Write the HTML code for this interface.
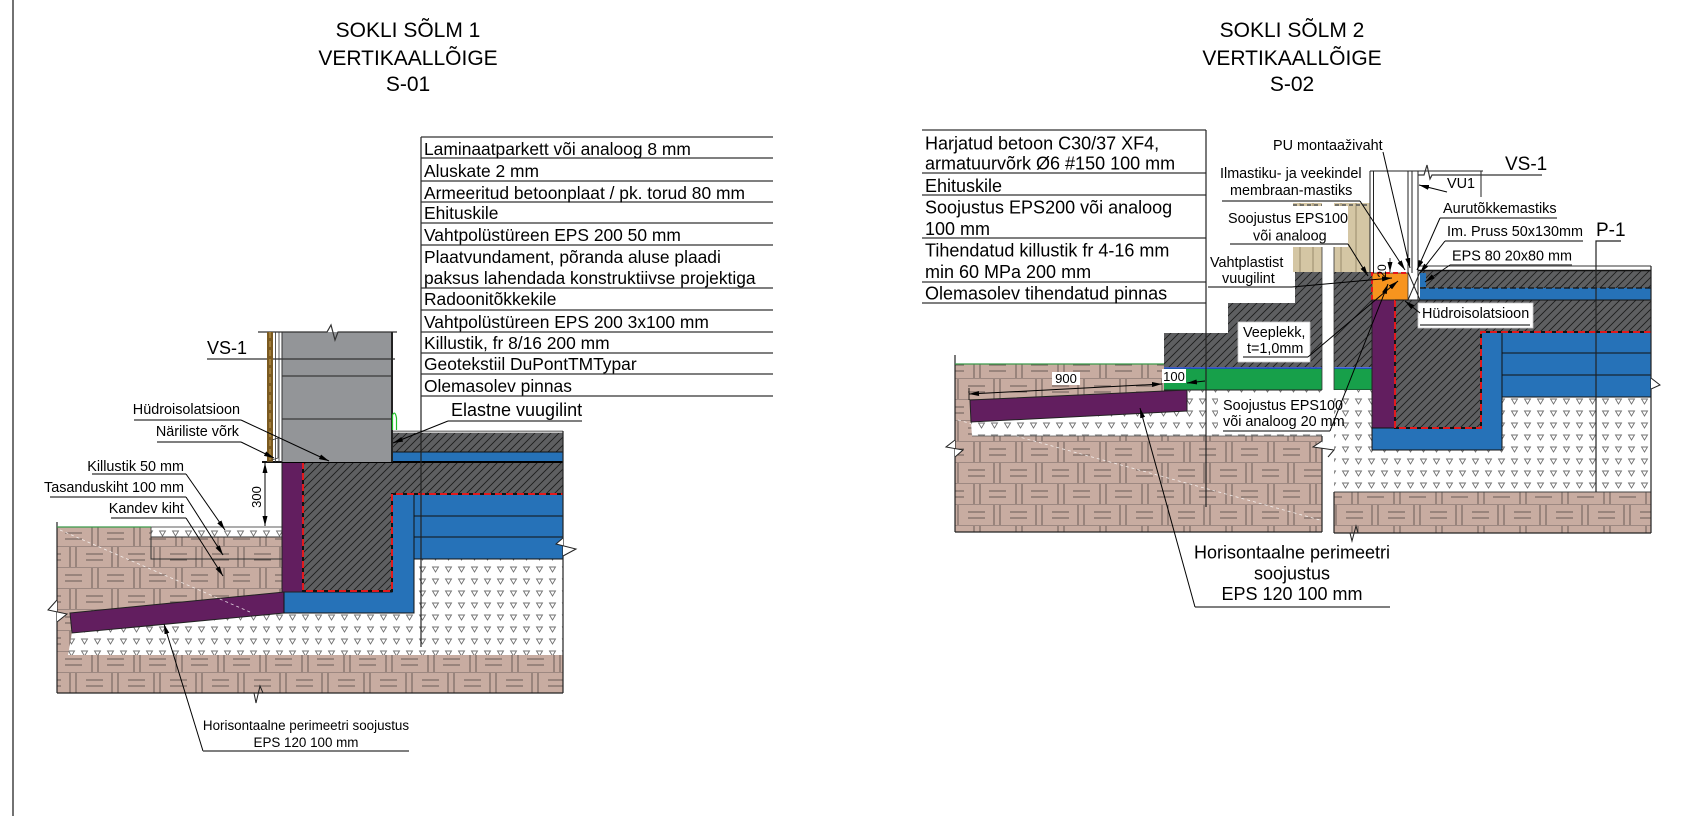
<!DOCTYPE html>
<html><head><meta charset="utf-8"><style>
html,body{margin:0;padding:0;background:#fff;}
body{width:1686px;height:816px;overflow:hidden;}
svg{display:block;font-family:"Liberation Sans",Arial,sans-serif;}
</style></head><body>
<svg width="1686" height="816" viewBox="0 0 1686 816" xmlns="http://www.w3.org/2000/svg">
<defs>
<pattern id="hatch" patternUnits="userSpaceOnUse" width="8" height="8">
<rect width="8" height="8" fill="#5e5f61"/>
<path d="M-2,2 L2,-2 M0,8 L8,0 M6,10 L10,6" stroke="#1c1c1c" stroke-width="0.9"/>
</pattern>
<pattern id="soil" patternUnits="userSpaceOnUse" width="42" height="42">
<rect width="42" height="42" fill="#c8aca1"/>
<g stroke="#8f7c76" stroke-width="0.8">
<path d="M0,0.5 H42 M0,21.5 H42"/>
</g>
<g stroke="#6a5b56" stroke-width="1">
<path d="M2,8 H19 M2,14 H19 M28,1 V21 M34,1 V21 M8,22 V42 M14,22 V42 M23,29 H40 M23,35 H40"/>
</g>
</pattern>
<pattern id="grav" patternUnits="userSpaceOnUse" width="13" height="12">
<rect width="13" height="12" fill="#fff"/>
<path d="M3.5,3 L9.5,3 L6.5,8 Z" fill="none" stroke="#707070" stroke-width="0.9"/>
</pattern>
<marker id="ah" markerUnits="userSpaceOnUse" markerWidth="11" markerHeight="5" refX="10" refY="2.5" orient="auto">
<path d="M0,0 L10,2.5 L0,5 z" fill="#000"/>
</marker>
<marker id="ahs" markerUnits="userSpaceOnUse" markerWidth="11" markerHeight="5" refX="0" refY="2.5" orient="auto">
<path d="M10,0 L0,2.5 L10,5 z" fill="#000"/>
</marker>
</defs>

<!-- page border -->
<line x1="13" y1="0" x2="13" y2="816" stroke="#444" stroke-width="1.5"/>

<!-- TITLES -->
<g font-size="21" text-anchor="middle" fill="#000">
<text x="408" y="37">SOKLI SÕLM 1</text>
<text x="408" y="65">VERTIKAALLÕIGE</text>
<text x="408" y="91">S-01</text>
<text x="1292" y="37">SOKLI SÕLM 2</text>
<text x="1292" y="65">VERTIKAALLÕIGE</text>
<text x="1292" y="91">S-02</text>
</g>

<!-- ================= LEFT DIAGRAM ================= -->
<rect x="57" y="527" width="506" height="166" fill="url(#soil)"/>
<polygon points="72,633 284,613 414,613 414,559 563,559 563,655 68,655" fill="url(#grav)"/>
<rect x="151" y="527" width="131" height="10" fill="url(#grav)" stroke="#333" stroke-width="0.8"/>
<rect x="151" y="537" width="131" height="22" fill="none" stroke="#333" stroke-width="1"/>
<polygon points="70,613 284,592 284,613 72,633" fill="#621e5f" stroke="#222" stroke-width="1"/>
<polygon points="284,592 392,592 392,494 414,494 414,613 284,613" fill="#2672b8" stroke="#111" stroke-width="1"/>
<rect x="414" y="494" width="149" height="65" fill="#2672b8" stroke="#111" stroke-width="1"/>
<line x1="414" y1="516" x2="563" y2="516" stroke="#111" stroke-width="1"/>
<line x1="414" y1="537" x2="563" y2="537" stroke="#111" stroke-width="1"/>
<rect x="282" y="462" width="21" height="130" fill="#621e5f" stroke="#222" stroke-width="1"/>
<polygon points="303,462 563,462 563,494 392,494 392,591 303,591" fill="url(#hatch)"/>
<polyline points="303,462 303,591 392,591 392,494 563,494" fill="none" stroke="#111" stroke-width="2"/>
<polyline points="303,462 303,591 392,591 392,494 563,494" fill="none" stroke="#e3191c" stroke-width="2" stroke-dasharray="7,4"/>
<line x1="282" y1="462" x2="303" y2="462" stroke="#e3191c" stroke-width="2" stroke-dasharray="5,3"/>
<rect x="390" y="433" width="173" height="19" fill="url(#hatch)"/>
<rect x="390" y="452" width="173" height="10" fill="#2672b8"/>
<line x1="390" y1="452" x2="563" y2="452" stroke="#111" stroke-width="1"/>
<line x1="390" y1="431.5" x2="563" y2="431.5" stroke="#8a8a8a" stroke-width="2"/>
<line x1="262" y1="462" x2="563" y2="462" stroke="#000" stroke-width="2"/>
<rect x="282" y="332" width="110" height="130" fill="#939598"/>
<line x1="282" y1="376" x2="392" y2="376" stroke="#3a3a3a" stroke-width="1.2"/>
<line x1="282" y1="419" x2="392" y2="419" stroke="#3a3a3a" stroke-width="1.2"/>
<line x1="207" y1="359" x2="395" y2="359" stroke="#333" stroke-width="1.2"/>
<polyline points="258,332 327,332 331,325 335,340 338,332 397,332" fill="none" stroke="#333" stroke-width="1.2"/>
<line x1="392" y1="332" x2="392" y2="462" stroke="#222" stroke-width="2"/>
<line x1="282" y1="332" x2="282" y2="462" stroke="#333" stroke-width="1"/>
<rect x="267" y="332" width="6" height="130" fill="#7b5a20"/>
<line x1="270" y1="332" x2="270" y2="460" stroke="#d8b060" stroke-width="0.8" stroke-dasharray="6,3"/>
<line x1="275.5" y1="332" x2="275.5" y2="462" stroke="#333" stroke-width="0.8"/>
<line x1="279" y1="332" x2="279" y2="462" stroke="#333" stroke-width="0.8"/>
<path d="M272,440 L278,438 L278,458 L272,460" fill="none" stroke="#333" stroke-width="0.8"/>
<path d="M392.5,430 L392.5,415 Q395,410 396.5,418 L396.5,430" fill="none" stroke="#23c02a" stroke-width="1.2"/>
<line x1="262" y1="462" x2="282" y2="462" stroke="#333" stroke-width="0.8"/>
<line x1="265" y1="463" x2="265" y2="526" stroke="#000" stroke-width="1" marker-start="url(#ahs)" marker-end="url(#ah)"/>
<text x="0" y="0" font-size="13" text-anchor="middle" transform="translate(261,497) rotate(-90)">300</text>
<line x1="57" y1="522" x2="57" y2="693" stroke="#222" stroke-width="1.2"/>
<line x1="57" y1="527" x2="151" y2="527" stroke="#3a9a4a" stroke-width="1.2"/>
<line x1="57" y1="693" x2="563" y2="693" stroke="#222" stroke-width="1.2"/>
<line x1="563" y1="431" x2="563" y2="693" stroke="#222" stroke-width="1.2"/>
<polyline points="563,538 556,544 576,549 563,556" fill="#fff" stroke="#222" stroke-width="1"/>
<polyline points="57,600 48,610 67,614 57,622" fill="#fff" stroke="#222" stroke-width="1"/>
<polyline points="249,693 254,693 256,703 260,686 263,693" fill="none" stroke="#222" stroke-width="1"/>
<line x1="60" y1="530" x2="250" y2="612" stroke="#fff" stroke-width="0.8" stroke-dasharray="3,3" opacity="0.8"/>
<line x1="421" y1="137" x2="421" y2="647" stroke="#222" stroke-width="1.2"/>

<g stroke="#333" stroke-width="1.3">
<line x1="421" y1="137" x2="773" y2="137"/>
<line x1="421" y1="158" x2="773" y2="158"/>
<line x1="421" y1="181" x2="773" y2="181"/>
<line x1="421" y1="202" x2="773" y2="202"/>
<line x1="421" y1="223" x2="773" y2="223"/>
<line x1="421" y1="245" x2="773" y2="245"/>
<line x1="421" y1="288" x2="773" y2="288"/>
<line x1="421" y1="310" x2="773" y2="310"/>
<line x1="421" y1="332" x2="773" y2="332"/>
<line x1="421" y1="353" x2="773" y2="353"/>
<line x1="421" y1="374" x2="773" y2="374"/>
<line x1="421" y1="396" x2="773" y2="396"/>
</g>
<g font-size="17.4" fill="#000">
<text x="424" y="155">Laminaatparkett või analoog 8 mm</text>
<text x="424" y="177">Aluskate 2 mm</text>
<text x="424" y="199">Armeeritud betoonplaat / pk. torud 80 mm</text>
<text x="424" y="219">Ehituskile</text>
<text x="424" y="241">Vahtpolüstüreen EPS 200 50 mm</text>
<text x="424" y="263">Plaatvundament, põranda aluse plaadi</text>
<text x="424" y="284">paksus lahendada konstruktiivse projektiga</text>
<text x="424" y="305">Radoonitõkkekile</text>
<text x="424" y="328">Vahtpolüstüreen EPS 200 3x100 mm</text>
<text x="424" y="349">Killustik, fr 8/16 200 mm</text>
<text x="424" y="370">Geotekstiil DuPontTMTypar</text>
<text x="424" y="392">Olemasolev pinnas</text>
</g>

<text x="207" y="354" font-size="18">VS-1</text>
<text x="451" y="416" font-size="18">Elastne vuugilint</text>
<line x1="448" y1="421" x2="582" y2="421" stroke="#555" stroke-width="1.5"/>
<line x1="448" y1="421" x2="393" y2="443" stroke="#000" stroke-width="1" marker-end="url(#ah)"/>

<g font-size="14.4" text-anchor="end" fill="#000">
<text x="240" y="414">Hüdroisolatsioon</text>
<text x="239" y="436">Näriliste võrk</text>
<text x="184" y="471">Killustik 50 mm</text>
<text x="184" y="492">Tasanduskiht 100 mm</text>
<text x="184" y="513">Kandev kiht</text>
</g>
<g stroke="#555" stroke-width="1.5">
<line x1="134" y1="420" x2="241" y2="420"/>
<line x1="157" y1="442" x2="241" y2="442"/>
<line x1="92" y1="474" x2="186" y2="474"/>
<line x1="50" y1="497" x2="186" y2="497"/>
<line x1="111" y1="518" x2="186" y2="518"/>
</g>
<g stroke="#000" stroke-width="1" fill="none">
<line x1="241" y1="420" x2="329" y2="461" marker-end="url(#ah)"/>
<line x1="241" y1="442" x2="274" y2="458" marker-end="url(#ah)"/>
<line x1="186" y1="474" x2="225" y2="530" marker-end="url(#ah)"/>
<line x1="186" y1="497" x2="223" y2="555" marker-end="url(#ah)"/>
<line x1="186" y1="518" x2="223" y2="576" marker-end="url(#ah)"/>
<line x1="203" y1="751" x2="164" y2="624" marker-end="url(#ah)"/>
</g>
<g font-size="13.4" text-anchor="middle">
<text x="306" y="730">Horisontaalne perimeetri soojustus</text>
<text x="306" y="747">EPS 120 100 mm</text>
</g>
<line x1="203" y1="751" x2="409" y2="751" stroke="#555" stroke-width="1.5"/>

<!-- ================= RIGHT DIAGRAM ================= -->
<rect x="955" y="364" width="367" height="168" fill="url(#soil)"/>
<rect x="1334" y="492" width="317" height="41" fill="url(#soil)"/>
<line x1="958" y1="420" x2="1320" y2="520" stroke="#fff" stroke-width="0.8" stroke-dasharray="3,3" opacity="0.8"/>
<polygon points="971,422 1187,411 1187,390 1322,390 1322,436 972,436" fill="url(#grav)"/>
<line x1="972" y1="436" x2="1322" y2="436" stroke="#555" stroke-width="0.8"/>
<polygon points="970,400 1187,390 1187,411 971,422" fill="#621e5f" stroke="#222" stroke-width="1"/>
<rect x="1164" y="368" width="158" height="22" fill="#17a04a"/>
<rect x="1334" y="368" width="38" height="22" fill="#17a04a"/>
<line x1="1164" y1="390" x2="1372" y2="390" stroke="#222" stroke-width="1"/>
<line x1="1164" y1="368" x2="1372" y2="368" stroke="#1d3fd0" stroke-width="1.5"/>
<polygon points="1164,367 1164,333 1228,333 1228,303 1295,303 1295,272 1322,272 1322,367" fill="url(#hatch)"/>
<rect x="1334" y="272" width="38" height="95" fill="url(#hatch)"/>
<polygon points="1334,390 1372,390 1372,450 1502,450 1502,397 1651,397 1651,492 1334,492" fill="url(#grav)"/>
<line x1="1334" y1="492" x2="1651" y2="492" stroke="#444" stroke-width="1"/>
<rect x="1293" y="203" width="29" height="69" fill="#d4c6a4"/>
<rect x="1334" y="203" width="36" height="69" fill="#d4c6a4"/>
<g stroke="#8b7d60" stroke-width="0.8">
<line x1="1300" y1="203" x2="1300" y2="272"/>
<line x1="1313" y1="203" x2="1313" y2="272"/>
<line x1="1341" y1="203" x2="1341" y2="272"/>
<line x1="1356" y1="203" x2="1356" y2="272"/>
</g>
<line x1="1293" y1="205" x2="1370" y2="205" stroke="#555" stroke-width="1.5" stroke-dasharray="4,3"/>
<rect x="1322" y="203" width="12" height="330" fill="#fff"/>
<line x1="1322" y1="240" x2="1322" y2="390" stroke="#333" stroke-width="0.8"/>
<line x1="1334" y1="240" x2="1334" y2="390" stroke="#333" stroke-width="0.8"/>
<rect x="1372" y="273" width="36" height="27" fill="#f7941e" stroke="#333" stroke-width="0.8"/>
<polyline points="1372,300 1372,273 1408,273" fill="none" stroke="#e3191c" stroke-width="2" stroke-dasharray="5,3"/>
<rect x="1372" y="300" width="23" height="128" fill="#621e5f" stroke="#222" stroke-width="1"/>
<polygon points="1395,300 1651,300 1651,332 1481,332 1481,428 1395,428" fill="url(#hatch)"/>
<polygon points="1372,428 1481,428 1481,332 1502,332 1502,450 1372,450" fill="#2672b8" stroke="#111" stroke-width="1"/>
<rect x="1502" y="332" width="149" height="65" fill="#2672b8" stroke="#111" stroke-width="1"/>
<line x1="1502" y1="353" x2="1651" y2="353" stroke="#111" stroke-width="1"/>
<line x1="1502" y1="375" x2="1651" y2="375" stroke="#111" stroke-width="1"/>
<polyline points="1395,300 1395,428 1481,428 1481,332 1651,332" fill="none" stroke="#111" stroke-width="2"/>
<polyline points="1395,300 1395,428 1481,428 1481,332 1651,332" fill="none" stroke="#e3191c" stroke-width="2" stroke-dasharray="7,4"/>
<rect x="1420" y="271" width="231" height="17" fill="url(#hatch)"/>
<rect x="1420" y="288" width="231" height="12" fill="#2672b8"/>
<line x1="1420" y1="288" x2="1651" y2="288" stroke="#111" stroke-width="1.2" stroke-dasharray="6,3"/>
<line x1="1395" y1="300" x2="1651" y2="300" stroke="#111" stroke-width="1"/>
<rect x="1420" y="273" width="6" height="14" fill="#2672b8"/>
<line x1="1418" y1="266" x2="1651" y2="266" stroke="#333" stroke-width="1"/>
<line x1="1418" y1="270.5" x2="1651" y2="270.5" stroke="#111" stroke-width="1.5"/>
<g stroke="#222" stroke-width="1">
<line x1="1370" y1="171" x2="1483" y2="171"/>
<line x1="1370" y1="171" x2="1370" y2="273"/>
<line x1="1373.5" y1="171" x2="1373.5" y2="273"/>
<line x1="1408" y1="171" x2="1408" y2="273"/>
<line x1="1412" y1="171" x2="1412" y2="273"/>
<line x1="1418" y1="171" x2="1418" y2="300"/>
<line x1="1481" y1="171" x2="1481" y2="197"/>
<line x1="1408" y1="272" x2="1420" y2="300"/>
<line x1="1420" y1="272" x2="1408" y2="300"/>
<line x1="1408" y1="300" x2="1420" y2="300"/>
</g>
<g stroke="#222" stroke-width="1.2" fill="none">
<line x1="955" y1="355" x2="955" y2="532"/>
<line x1="955" y1="532" x2="1322" y2="532"/>
<line x1="1334" y1="533" x2="1651" y2="533"/>
<line x1="1651" y1="266" x2="1651" y2="533"/>
<line x1="1322" y1="436" x2="1322" y2="532"/>
<line x1="1334" y1="492" x2="1334" y2="533"/>
</g>
<line x1="955" y1="364" x2="1164" y2="364" stroke="#3a9a4a" stroke-width="1.2"/>
<polyline points="955,440 946,447 963,450 955,457" fill="#fff" stroke="#222" stroke-width="1"/>
<polyline points="1322,441 1313,447 1334,450 1328,457" fill="#fff" stroke="#222" stroke-width="1"/>
<polyline points="1346,533 1350,533 1352,541 1356,526 1358,533" fill="none" stroke="#222" stroke-width="1"/>
<polyline points="1651,378 1660,385 1651,389" fill="#fff" stroke="#222" stroke-width="1"/>

<g stroke="#333" stroke-width="1.3">
<line x1="922" y1="130" x2="1206" y2="130"/>
<line x1="922" y1="173" x2="1206" y2="173"/>
<line x1="922" y1="195" x2="1206" y2="195"/>
<line x1="922" y1="238" x2="1206" y2="238"/>
<line x1="922" y1="282" x2="1206" y2="282"/>
<line x1="922" y1="303" x2="1206" y2="303"/>
</g>
<line x1="1206" y1="130" x2="1206" y2="507" stroke="#222" stroke-width="1.2"/>
<g font-size="18" fill="#000">
<text x="925" y="149.5">Harjatud betoon C30/37 XF4,</text>
<text x="925" y="169.5">armatuurvõrk Ø6 #150 100 mm</text>
<text x="925" y="192">Ehituskile</text>
<text x="925" y="213.5">Soojustus EPS200 või analoog</text>
<text x="925" y="235">100 mm</text>
<text x="925" y="256.5">Tihendatud killustik fr 4-16 mm</text>
<text x="925" y="278">min 60 MPa 200 mm</text>
<text x="925" y="299.5">Olemasolev tihendatud pinnas</text>
</g>

<rect x="1226" y="206" width="122" height="41" fill="#fff"/>
<rect x="1207" y="250" width="85" height="38" fill="#fff"/>
<rect x="1238" y="322" width="72" height="40" fill="#fff" stroke="#ccc" stroke-width="0.8"/>
<rect x="1418" y="303" width="115" height="25" fill="#fff" stroke="#ccc" stroke-width="0.8"/>
<rect x="1218" y="394" width="112" height="39" fill="#fff"/>

<g font-size="14.4" fill="#000">
<text x="1273" y="150">PU montaaživaht</text>
<text x="1220" y="178">Ilmastiku- ja veekindel</text>
<text x="1230" y="195">membraan-mastiks</text>
<text x="1228" y="223">Soojustus EPS100</text>
<text x="1253" y="240.5">või analoog</text>
<text x="1210" y="267">Vahtplastist</text>
<text x="1222" y="283">vuugilint</text>
<text x="1243" y="337">Veeplekk,</text>
<text x="1247" y="353">t=1,0mm</text>
<text x="1422" y="318">Hüdroisolatsioon</text>
<text x="1447" y="188">VU1</text>
<text x="1443" y="213">Aurutõkkemastiks</text>
<text x="1447" y="236">Im. Pruss 50x130mm</text>
<text x="1452" y="260.5">EPS 80 20x80 mm</text>
<text x="1223" y="410">Soojustus EPS100</text>
<text x="1223" y="426">või analoog 20 mm</text>
</g>
<g stroke="#555" stroke-width="1.5">
<line x1="1222" y1="201" x2="1360" y2="201"/>
<line x1="1230" y1="244" x2="1348" y2="244"/>
<line x1="1208" y1="287" x2="1292" y2="287"/>
<line x1="1243" y1="357" x2="1308" y2="357"/>
<line x1="1420" y1="325" x2="1530" y2="325"/>
<line x1="1440" y1="218" x2="1557" y2="218"/>
<line x1="1445" y1="241" x2="1583" y2="241"/>
<line x1="1450" y1="265" x2="1572" y2="265"/>
<line x1="1223" y1="431" x2="1330" y2="431"/>
<line x1="1195" y1="607" x2="1390" y2="607"/>
</g>
<g stroke="#000" stroke-width="1" fill="none">
<line x1="1383" y1="152" x2="1410" y2="268" marker-end="url(#ah)"/>
<line x1="1360" y1="201" x2="1405" y2="270" marker-end="url(#ah)"/>
<line x1="1348" y1="244" x2="1368" y2="276" marker-end="url(#ah)"/>
<line x1="1292" y1="287" x2="1392" y2="278" marker-end="url(#ah)"/>
<line x1="1308" y1="357" x2="1398" y2="281" marker-end="url(#ah)"/>
<line x1="1330" y1="431" x2="1388" y2="284" marker-end="url(#ah)"/>
<line x1="1420" y1="313" x2="1405" y2="301" marker-end="url(#ah)"/>
<line x1="1440" y1="218" x2="1417" y2="270" marker-end="url(#ah)"/>
<line x1="1445" y1="241" x2="1420" y2="273" marker-end="url(#ah)"/>
<line x1="1450" y1="265" x2="1425" y2="282" marker-end="url(#ah)"/>
<line x1="1447" y1="192" x2="1419" y2="185" marker-end="url(#ah)"/>
<line x1="1195" y1="607" x2="1140" y2="408" marker-end="url(#ah)"/>
</g>
<text x="1505" y="170" font-size="19">VS-1</text>
<polyline points="1418,175 1424,175 1427,165 1430,179 1432,175 1542,175" fill="none" stroke="#333" stroke-width="1.2"/>
<text x="1596" y="236" font-size="19">P-1</text>
<polyline points="1621,241 1596,241 1596,492" fill="none" stroke="#222" stroke-width="1.2"/>
<line x1="1390" y1="258" x2="1390" y2="272" stroke="#000" stroke-width="0.8" marker-end="url(#ah)"/>
<text x="0" y="0" font-size="12" text-anchor="middle" transform="translate(1386,271) rotate(-90)">20</text>
<line x1="969" y1="394" x2="1162" y2="384" stroke="#000" stroke-width="1" marker-start="url(#ahs)" marker-end="url(#ah)"/>
<line x1="969" y1="388" x2="969" y2="400" stroke="#000" stroke-width="0.8"/>
<rect x="1052" y="372" width="28" height="13" fill="#fff"/>
<text x="1066" y="383" font-size="13" text-anchor="middle">900</text>
<rect x="1162" y="369" width="24" height="14" fill="#fff"/>
<text x="1174" y="381" font-size="13" text-anchor="middle">100</text>
<line x1="1205" y1="381" x2="1187" y2="383" stroke="#000" stroke-width="1" marker-end="url(#ah)"/>
<g font-size="18" text-anchor="middle">
<text x="1292" y="558.5">Horisontaalne perimeetri</text>
<text x="1292" y="579.5">soojustus</text>
<text x="1292" y="600">EPS 120 100 mm</text>
</g>
</svg>
</body></html>
